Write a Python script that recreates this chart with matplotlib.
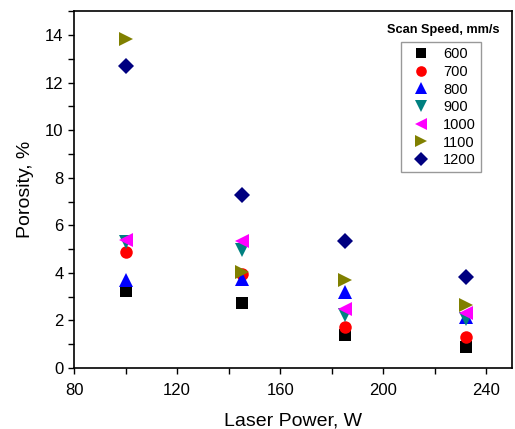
import matplotlib
matplotlib.use("Agg")
import matplotlib.pyplot as plt
from matplotlib.ticker import MultipleLocator

plt.rcParams['font.family'] = ['Liberation Sans', 'DejaVu Sans']

laser_power = [100, 145, 185, 232]
speeds = ['600', '700', '800', '900', '1000', '1100', '1200']
porosity = {
    '600':  [3.24, 2.73, 1.39, 0.88],
    '700':  [4.87, 3.95, 1.73, 1.30],
    '800':  [3.70, 3.74, 3.20, 2.15],
    '900':  [5.30, 4.97, 2.23, 2.08],
    '1000': [5.38, 5.34, 2.48, 2.30],
    '1100': [13.82, 4.05, 3.70, 2.65],
    '1200': [12.70, 7.27, 5.34, 3.82],
}
markers = ['s', 'o', '^', 'v', '<', '>', 'D']
colors = ['#000000', '#ff0000', '#0000ff', '#008080', '#ff00ff', '#808000', '#000080']
sizes = [8, 9, 10, 10, 10, 10, 8]

fig = plt.figure(figsize=(5.15, 4.29), dpi=100)
ax = fig.add_axes([0.1437, 0.142, 0.851, 0.832])

for s, m, c, ms in zip(speeds, markers, colors, sizes):
    ax.plot(laser_power, porosity[s], linestyle='none', marker=m, color=c,
            markersize=ms, markeredgewidth=0, label=s)

ax.set_xlim(80, 250)
ax.set_ylim(0, 15)
ax.xaxis.set_major_locator(MultipleLocator(40))
ax.xaxis.set_minor_locator(MultipleLocator(20))
ax.yaxis.set_major_locator(MultipleLocator(2))
ax.yaxis.set_minor_locator(MultipleLocator(1))
ax.tick_params(which='both', direction='out', length=4, width=1, labelsize=12)
ax.tick_params(axis='x', which='both', pad=7)
for sp in ax.spines.values():
    sp.set_linewidth(1.2)

ax.set_xlabel('Laser Power, W', fontsize=14, labelpad=10)
ax.set_ylabel('Porosity, %', fontsize=14, labelpad=8)

leg = ax.legend(loc='upper left', bbox_to_anchor=(0.747, 0.913), fontsize=10.5,
                frameon=True, fancybox=False, edgecolor='#808080',
                handlelength=2.0, handletextpad=0.5, borderpad=0.35,
                borderaxespad=0, labelspacing=0.25, markerscale=0.85)
leg.get_frame().set_linewidth(1.0)
ax.text(0.842, 0.947, 'Scan Speed, mm/s', transform=ax.transAxes, fontsize=9.2,
        fontweight='bold', ha='center', va='center')

fig.savefig('out.png', dpi=100)
